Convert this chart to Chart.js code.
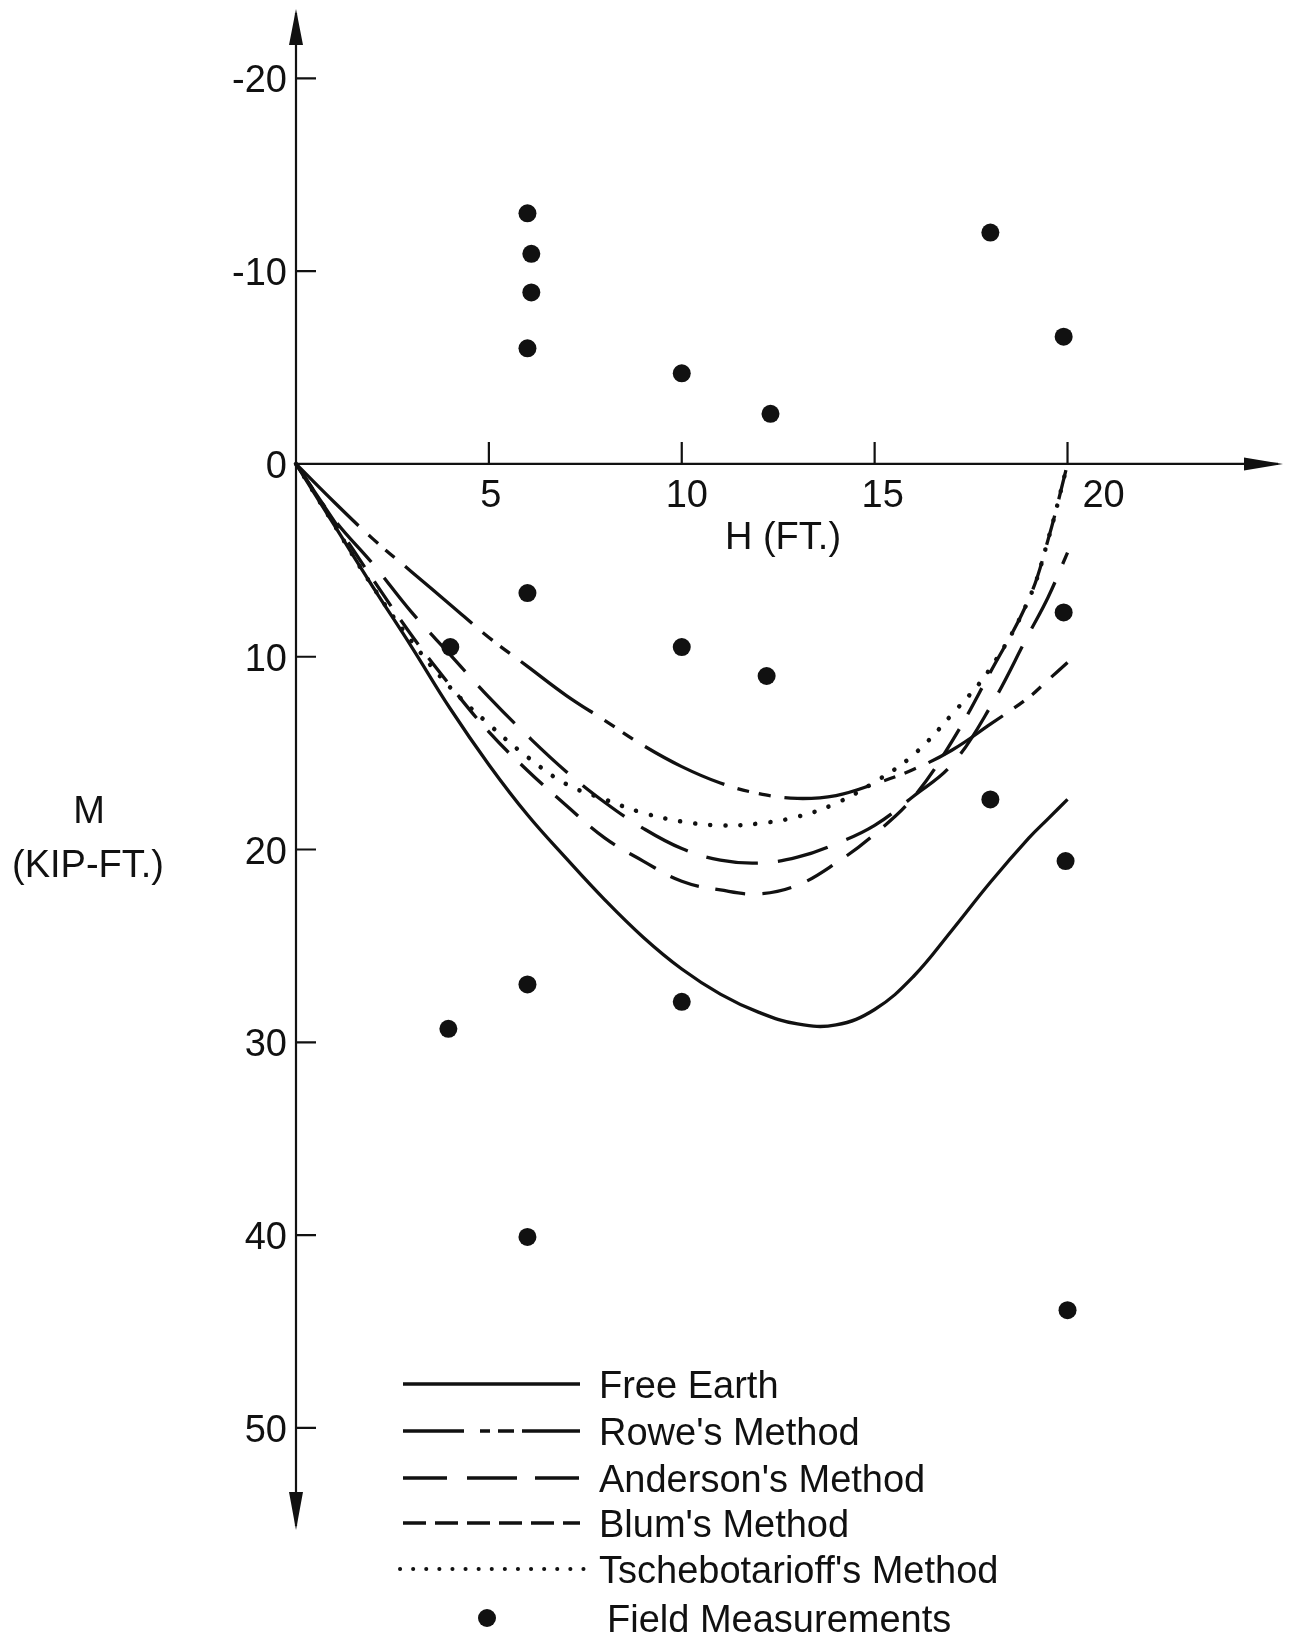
<!DOCTYPE html>
<html>
<head>
<meta charset="utf-8">
<script src="https://cdn.jsdelivr.net/npm/chart.js@4.4.1/dist/chart.umd.min.js"></script>
<style>
    body { margin: 0; background: #fff; }
    canvas { display: block; }
</style>
</head>
<body>
<canvas id="grafico" width="1293" height="1641"></canvas>
<script>
var hFt = [0, 1, 2, 3, 4, 5, 6, 7, 8, 9, 10, 11, 12, 13, 14, 15, 16, 17, 18, 19, 19.5, 20];

// M (kip-ft) for each method
var freeEarth = [0, 3.2, 6.4, 9.5, 12.7, 15.6, 18.2, 20.45, 22.6, 24.55, 26.2, 27.5, 28.45, 29.05, 29.1, 28.3, 26.6, 24.2, 21.7, 19.4, 18.4, 17.4];
var rowe = [0, 2.0, 3.9, 5.6, 7.3, 9.0, 10.5, 12.0, 13.3, 14.6, 15.7, 16.55, 17.1, 17.35, 17.2, 16.6, 15.85, 14.85, 13.5, 12.1, 11.2, 10.3];
var anderson = [0, 2.9, 5.2, 7.7, 9.9, 12.1, 14.1, 15.95, 17.55, 18.9, 19.95, 20.55, 20.7, 20.4, 19.7, 18.75, 17.25, 15.6, 12.6, 8.8, 6.9, 4.6];
var blum = [0, 3.0, 6.0, 8.9, 11.5, 13.9, 15.9, 17.7, 19.4, 20.6, 21.65, 22.1, 22.3, 21.85, 20.7, 19.2, 17.3, 14.4, 10.8, 7.0, 3.9, 0];
var tschebotarioff = [0, 3.2, 6.4, 9.2, 11.6, 13.5, 15.2, 16.6, 17.4, 18.1, 18.55, 18.75, 18.65, 18.3, 17.6, 16.5, 15.1, 13.0, 10.6, 7.0, 3.9, 0];

// field measurements
var fieldH = [6.0, 6.1, 6.1, 6.0, 10.0, 12.3, 18.0, 19.9, 6.0, 4.0, 10.0, 12.2, 19.9, 18.0, 19.95, 6.0, 10.0, 3.95, 6.0, 20.0];
var fieldM = [-13.0, -10.9, -8.9, -6.0, -4.7, -2.6, -12.0, -6.6, 6.7, 9.5, 9.5, 11.0, 7.7, 17.4, 20.6, 27.0, 27.9, 29.3, 40.1, 43.9];

var xTicks = [5, 10, 15, 20];
var yTicks = [-20, -10, 0, 10, 20, 30, 40, 50];
var nomes = ["Free Earth", "Rowe's Method", "Anderson's Method", "Blum's Method", "Tschebotarioff's Method", "Field Measurements"];

var fonte = "38px 'Liberation Sans', Arial, sans-serif";
var tinta = "#111";

// dash patterns: chart curves and legend samples
var tracos = [[], [88, 14, 12, 10, 12, 14], [52, 20], [30, 17], [0.1, 15]];
var tracosLegenda = [[], [61, 16, 10, 8, 16, 8], [44, 20, 50, 18], [23, 9], [0.1, 13]];

function pontos(ys) {
    var lista = [];
    for (var i = 0; i < hFt.length; i++) {
        lista.push({ x: hFt[i], y: ys[i] });
    }
    return lista;
}

function curva(nome, ys, i) {
    return {
        label: nome,
        data: pontos(ys),
        showLine: true,
        borderColor: tinta,
        borderWidth: i == 4 ? 4.5 : 3.3,
        borderDash: tracos[i],
        borderCapStyle: i == 4 ? "round" : "butt",
        tension: 0.4,
        pointRadius: 0,
        fill: false,
        clip: false
    };
}

var medidas = [];
for (var i = 0; i < fieldH.length; i++) {
    medidas.push({ x: fieldH[i], y: fieldM[i] });
}

var eixos = {
    id: "eixos",
    beforeDatasetsDraw: function (chart) {
        var ctx = chart.ctx;
        var sx = chart.scales.x;
        var sy = chart.scales.y;
        var x0 = sx.getPixelForValue(0);
        var y0 = sy.getPixelForValue(0);
        var area = chart.chartArea;

        ctx.save();
        ctx.strokeStyle = tinta;
        ctx.fillStyle = tinta;
        ctx.lineWidth = 2.2;

        // axis lines
        ctx.beginPath();
        ctx.moveTo(x0, area.top + 4);
        ctx.lineTo(x0, area.bottom - 4);
        ctx.moveTo(x0, y0);
        ctx.lineTo(area.right - 4, y0);
        ctx.stroke();

        // arrow heads
        ctx.beginPath();
        ctx.moveTo(x0, area.top);
        ctx.lineTo(x0 - 7, area.top + 36);
        ctx.lineTo(x0 + 7, area.top + 36);
        ctx.closePath();
        ctx.moveTo(x0, area.bottom);
        ctx.lineTo(x0 - 7, area.bottom - 38);
        ctx.lineTo(x0 + 7, area.bottom - 38);
        ctx.closePath();
        ctx.moveTo(area.right + 1, y0);
        ctx.lineTo(area.right - 38, y0 - 6.5);
        ctx.lineTo(area.right - 38, y0 + 6.5);
        ctx.closePath();
        ctx.fill();

        // tick marks
        ctx.beginPath();
        for (var i = 0; i < xTicks.length; i++) {
            var px = sx.getPixelForValue(xTicks[i]);
            ctx.moveTo(px, y0);
            ctx.lineTo(px, y0 - 22);
        }
        for (var j = 0; j < yTicks.length; j++) {
            if (yTicks[j] == 0) continue;
            var py = sy.getPixelForValue(yTicks[j]);
            ctx.moveTo(x0, py);
            ctx.lineTo(x0 + 20, py);
        }
        ctx.stroke();

        // tick labels
        ctx.font = fonte;
        ctx.textBaseline = "alphabetic";
        ctx.textAlign = "right";
        for (var k = 0; k < yTicks.length; k++) {
            ctx.fillText(String(yTicks[k]), x0 - 9, sy.getPixelForValue(yTicks[k]) + 14);
        }
        var desvio = [2, 5, 8, 36];
        ctx.textAlign = "center";
        for (var m = 0; m < xTicks.length; m++) {
            ctx.fillText(String(xTicks[m]), sx.getPixelForValue(xTicks[m]) + desvio[m], y0 + 43);
        }

        // axis titles
        ctx.fillText("H (FT.)", 783, y0 + 85);
        ctx.fillText("M", 89, 823);
        ctx.fillText("(KIP-FT.)", 88, 877);
        ctx.restore();
    },
    afterDraw: function (chart) {
        var ctx = chart.ctx;
        var linhas = [1384, 1431, 1478, 1523, 1569, 1618];
        ctx.save();
        ctx.strokeStyle = tinta;
        ctx.fillStyle = tinta;
        for (var i = 0; i < 5; i++) {
            ctx.beginPath();
            ctx.setLineDash(tracosLegenda[i]);
            ctx.lineWidth = i == 4 ? 4 : 3.3;
            ctx.lineCap = i == 4 ? "round" : "butt";
            ctx.moveTo(i == 4 ? 400 : 403, linhas[i]);
            ctx.lineTo(i == 4 ? 584 : 580, linhas[i]);
            ctx.stroke();
        }
        ctx.setLineDash([]);
        ctx.beginPath();
        ctx.arc(487, linhas[5], 9, 0, Math.PI * 2);
        ctx.fill();

        ctx.font = fonte;
        ctx.textAlign = "left";
        ctx.textBaseline = "alphabetic";
        for (var j = 0; j < nomes.length; j++) {
            ctx.fillText(nomes[j], j == 5 ? 607 : 599, linhas[j] + 14);
        }
        ctx.restore();
    }
};

new Chart(document.getElementById("grafico"), {
    type: "scatter",
    data: {
        datasets: [
            curva(nomes[0], freeEarth, 0),
            curva(nomes[1], rowe, 1),
            curva(nomes[2], anderson, 2),
            curva(nomes[3], blum, 3),
            curva(nomes[4], tschebotarioff, 4),
            {
                label: nomes[5],
                data: medidas,
                showLine: false,
                pointRadius: 9,
                pointBackgroundColor: tinta,
                pointBorderWidth: 0,
                clip: false
            }
        ]
    },
    options: {
        responsive: false,
        animation: false,
        layout: { padding: { left: 296, top: 7, right: 11, bottom: 111 } },
        plugins: {
            legend: { display: false },
            tooltip: { enabled: false }
        },
        scales: {
            x: { type: "linear", min: 0, max: 25.56, display: false },
            y: { type: "linear", min: -23.6, max: 55.3, reverse: true, display: false }
        }
    },
    plugins: [eixos]
});
</script>
</body>
</html>
